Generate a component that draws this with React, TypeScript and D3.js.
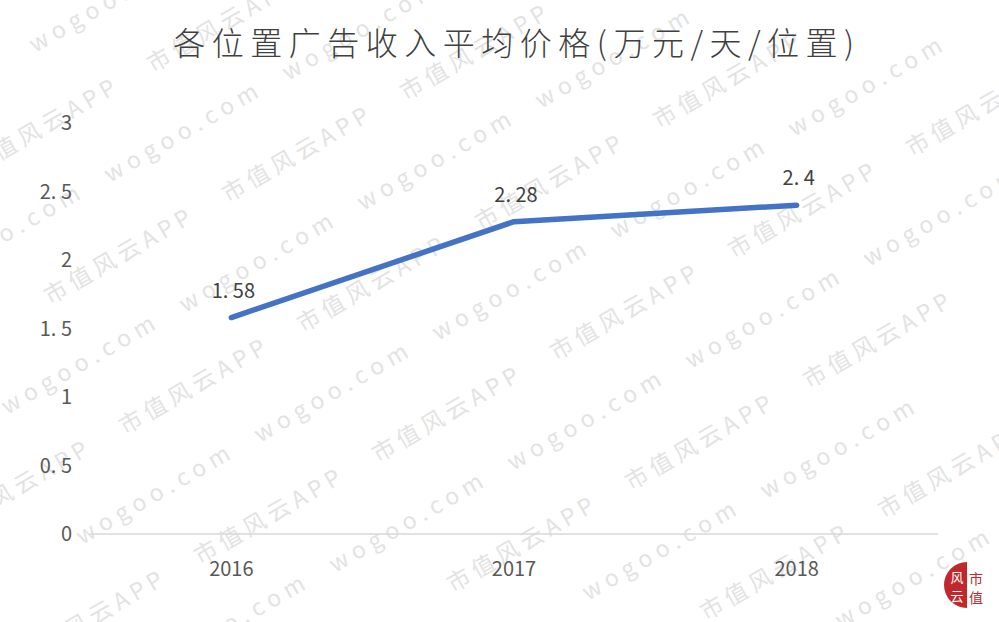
import React from "react";
import * as d3 from "d3";

const categories = ["2016", "2017", "2018"];
const values = [1.58, 2.28, 2.4];
const valueLabels = ["1. 58", "2. 28", "2. 4"];
const yTicks = [0, 0.5, 1, 1.5, 2, 2.5, 3];
const yTickLabels = ["0", "0. 5", "1", "1. 5", "2", "2. 5", "3"];
const title = "各位置广告收入平均价格(万元/天/位置)";
const watermarkTexts = ["市值风云APP", "wogoo.com"];

const W = 999;
const H = 622;
const left = 90;
const right = 938;
const top = 123;
const bottom = 534;

export default function App() {
  const x = d3.scaleBand<string>().domain(categories).range([left, right]);
  const y = d3.scaleLinear().domain([0, 3]).range([bottom, top]);
  const line = d3
    .line<number>()
    .x((_, i) => (x(categories[i]) as number) + x.bandwidth() / 2)
    .y((d) => y(d));

  // watermark lattice
  const ax = 75, ay = 130, bx = 178, by = -102;
  const ox = 556, oy = 361;
  const offX = 135, offY = 8;
  const marks: { x: number; y: number; t: string }[] = [];
  for (let i = -6; i <= 6; i++) {
    for (let j = -6; j <= 6; j++) {
      const px = ox + i * ax + j * bx;
      const py = oy + i * ay + j * by;
      const cands = [
        { x: px, y: py, t: watermarkTexts[0] },
        { x: px + offX, y: py + offY, t: watermarkTexts[1] },
      ];
      for (const c of cands) {
        const cxm = c.x + 75;
        const cym = c.y - 45;
        if (cxm > -20 && cxm < W + 20 && cym > -10 && cym < H + 10) marks.push(c);
      }
    }
  }

  return (
    <svg width={W} height={H} style={{ position: "absolute", left: 0, top: 0, background: "#fff" }}>
      <rect x={0} y={0} width={W} height={H} fill="#fff" />
      <g>
        {marks.map((m, i) => (
          <text
            key={i}
            transform={`translate(${m.x},${m.y}) rotate(-30)`}
            fontFamily="Noto Sans CJK SC, sans-serif"
            fontSize={23}
            fontWeight={400}
            fill="#e3e3e3"
            letterSpacing={m.t === "wogoo.com" ? 6 : 5}
          >
            {m.t}
          </text>
        ))}
      </g>
      <text
        x={517}
        y={55}
        textAnchor="middle"
        fontFamily="Noto Sans CJK SC, sans-serif"
        fontWeight={300}
        fontSize={32}
        fill="#404040"
        letterSpacing={6.5}
      >
        {title}
      </text>
      {yTicks.map((t, i) => (
        <text
          key={t}
          x={72}
          y={y(t) + 7}
          textAnchor="end"
          fontFamily="Noto Sans CJK SC, sans-serif"
          fontSize={20}
          fill="#595959"
        >
          {yTickLabels[i]}
        </text>
      ))}
      <line x1={left} x2={right} y1={bottom} y2={bottom} stroke="#d9d9d9" strokeWidth={1.5} />
      {categories.map((c) => (
        <text
          key={c}
          x={(x(c) as number) + x.bandwidth() / 2}
          y={576}
          textAnchor="middle"
          fontFamily="Noto Sans CJK SC, sans-serif"
          fontSize={20}
          fill="#595959"
        >
          {c}
        </text>
      ))}
      <path d={line(values) || ""} fill="none" stroke="#4472C4" strokeWidth={5.5} strokeLinecap="round" strokeLinejoin="round" />
      {values.map((v, i) => (
        <text
          key={i}
          x={(x(categories[i]) as number) + x.bandwidth() / 2 + 2}
          y={y(v) - 20}
          textAnchor="middle"
          fontFamily="Noto Sans CJK SC, sans-serif"
          fontSize={20}
          fill="#404040"
        >
          {valueLabels[i]}
        </text>
      ))}
      <g>
        <path d="M 967 562 A 23 23 0 0 0 967 608 Z" fill="#c0282d" />
        <text x={957} y={582} textAnchor="middle" fontSize={13} fill="#fff" fontFamily="Noto Sans CJK SC">风</text>
        <text x={957} y={601} textAnchor="middle" fontSize={13} fill="#fff" fontFamily="Noto Sans CJK SC">云</text>
        <text x={976} y={584} textAnchor="middle" fontSize={14} fill="#c0282d" fontFamily="Noto Sans CJK SC">市</text>
        <text x={976} y={603} textAnchor="middle" fontSize={14} fill="#c0282d" fontFamily="Noto Sans CJK SC">值</text>
      </g>
    </svg>
  );
}
